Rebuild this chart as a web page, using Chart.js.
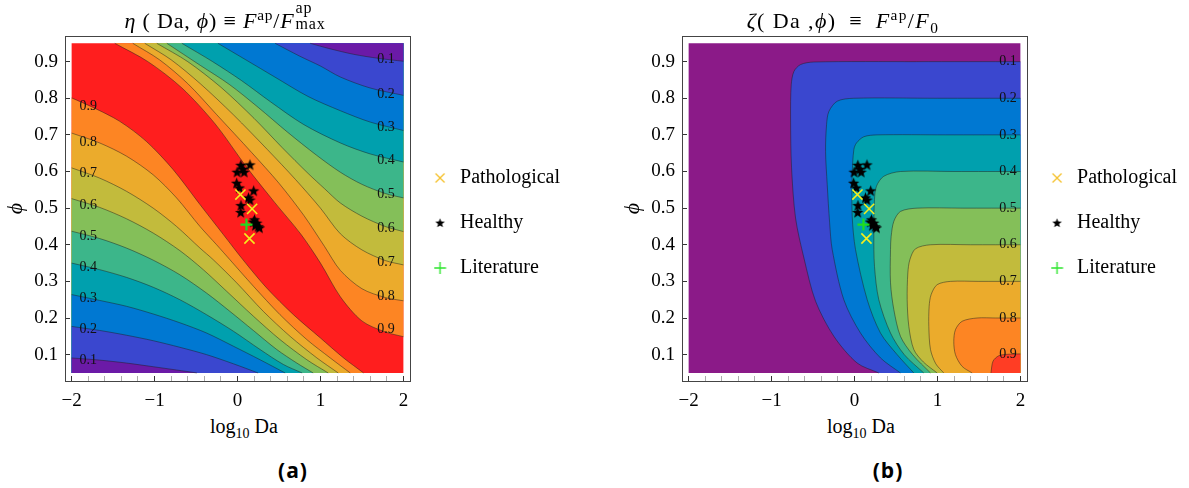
<!DOCTYPE html>
<html>
<head>
<meta charset="utf-8">
<script src="https://cdn.jsdelivr.net/npm/chart.js@4.4.1/dist/chart.umd.min.js"></script>
<style>
  html,body{margin:0;padding:0;background:#fff;}
  body{width:1189px;height:488px;position:relative;overflow:hidden;font-family:'Liberation Serif','Times New Roman',serif;color:#000;}
  .panel{position:absolute;top:0;width:570px;height:412px;}
  #panelA{left:0;}
  #panelB{left:617px;}
  .ttl{position:absolute;top:8px;font-size:22px;line-height:26px;letter-spacing:0.8px;white-space:nowrap;transform:translateX(-50%);z-index:2;}
  .ttlb{letter-spacing:1.4px;}
  .xt{position:absolute;top:413px;font-size:20px;line-height:26px;white-space:nowrap;transform:translateX(-50%);}
  .tag{position:absolute;top:456px;font-family:'Open Sans',sans-serif;font-weight:700;font-size:21px;line-height:28px;letter-spacing:1px;transform:translateX(-50%);}
  sup,sub{font-size:70%;line-height:0;}
  .stk{display:inline-block;position:relative;width:33px;height:0;font-size:16px;}
  .stk .sp{position:absolute;left:1px;top:-28px;line-height:16px;}
  .stk .sb{position:absolute;left:1px;top:-12px;line-height:16px;}
</style>
</head>
<body>
<div id="panelA" class="panel"><canvas id="chartA"></canvas></div>
<div id="panelB" class="panel"><canvas id="chartB"></canvas></div>
<div class="ttl" style="left:226px"><i>η</i> ( Da, <i>ϕ</i>) ≡ <i>F</i><sup>ap</sup>/<i>F</i><span class="stk"><span class="sp">ap</span><span class="sb">max</span></span></div>
<div class="ttl ttlb" style="left:843px"><i>ζ</i>( Da ,<i>ϕ</i>)&thinsp; ≡ &thinsp;<i>F</i><sup>ap</sup>/<i>F</i><sub>0</sub></div>
<div class="xt" style="left:244px">log<sub>10</sub> Da</div>
<div class="xt" style="left:861px">log<sub>10</sub> Da</div>
<div class="tag" style="left:293px">(a)</div>
<div class="tag" style="left:888px">(b)</div>

<script>
// ---------------- axis ticks ----------------
const xTickValues = [-2, -1, 0, 1, 2];
const xTickLabels = ['−2', '−1', '0', '1', '2'];
const yTickValues = [0.1, 0.2, 0.3, 0.4, 0.5, 0.6, 0.7, 0.8, 0.9];
const yTickLabels = ['0.1', '0.2', '0.3', '0.4', '0.5', '0.6', '0.7', '0.8', '0.9'];
const plotXRange = [-2, 2];        // log10 Da range of the contour field
const plotYRange = [0.05, 0.95];   // phi range of the contour field
const contourLevelText = ['0.1', '0.2', '0.3', '0.4', '0.5', '0.6', '0.7', '0.8', '0.9'];

// ---------------- panel (a): eta contours, [log10 Da, phi] ----------------
// contours above the ridge (top edge -> right edge)
const etaUp90 = [[-1.48,0.95],[-1.08,0.90],[-0.67,0.828],[-0.27,0.73],[0.11,0.612],[0.45,0.515],[0.76,0.43],[1.0,0.35],[1.24,0.258],[1.5,0.192],[1.78,0.162],[2,0.149]];
const etaUp80 = [[-1.263,0.95],[-0.94,0.905],[-0.6,0.84],[-0.25,0.755],[0.17,0.652],[0.5,0.568],[0.8,0.48],[1.05,0.395],[1.24,0.33],[1.5,0.28],[1.78,0.256],[2,0.247]];
const etaUp70 = [[-1.118,0.95],[-0.8,0.905],[-0.45,0.84],[-0.05,0.755],[0.36,0.66],[0.7,0.578],[1.0,0.5],[1.24,0.43],[1.5,0.386],[1.78,0.357],[2,0.345]];
const etaUp60 = [[-0.973,0.95],[-0.6,0.9],[-0.2,0.83],[0.2,0.745],[0.54,0.665],[0.85,0.595],[1.05,0.553],[1.24,0.514],[1.5,0.478],[1.78,0.45],[2,0.436]];
const etaUp50 = [[-0.852,0.95],[-0.45,0.89],[-0.1,0.838],[0.25,0.775],[0.6,0.708],[0.95,0.645],[1.24,0.598],[1.5,0.565],[1.78,0.54],[2,0.528]];
const etaUp40 = [[-0.671,0.95],[-0.3,0.9],[0.05,0.848],[0.4,0.79],[0.8,0.728],[1.24,0.678],[1.6,0.648],[2,0.626]];
const etaUp30 = [[-0.236,0.95],[0.1,0.905],[0.45,0.858],[0.85,0.805],[1.24,0.766],[1.6,0.735],[2,0.712]];
const etaUp20 = [[0.453,0.95],[0.75,0.915],[1.0,0.888],[1.24,0.858],[1.6,0.828],[2,0.808]];
const etaUp10 = [[0.876,0.95],[1.1,0.936],[1.4,0.92],[1.7,0.909],[2,0.901]];
// contours below the ridge (left edge -> bottom edge)
const etaLo90 = [[-2,0.801],[-1.742,0.775],[-1.42,0.737],[-1.098,0.682],[-0.775,0.605],[-0.453,0.51],[-0.171,0.428],[0.066,0.359],[0.352,0.282],[0.675,0.209],[0.997,0.146],[1.279,0.091],[1.52,0.05]];
const etaLo80 = [[-2,0.705],[-1.662,0.678],[-1.339,0.642],[-1.017,0.591],[-0.735,0.528],[-0.453,0.45],[-0.252,0.4],[-0.091,0.359],[0.191,0.287],[0.513,0.209],[0.836,0.141],[1.118,0.091],[1.359,0.05]];
const etaLo70 = [[-2,0.61],[-1.662,0.582],[-1.339,0.546],[-1.017,0.5],[-0.735,0.45],[-0.453,0.391],[-0.292,0.359],[-0.01,0.296],[0.312,0.218],[0.634,0.15],[0.957,0.091],[1.214,0.05]];
const etaLo60 = [[-2,0.526],[-1.662,0.502],[-1.339,0.471],[-1.017,0.432],[-0.695,0.384],[-0.413,0.332],[-0.131,0.273],[0.191,0.205],[0.513,0.141],[0.836,0.086],[1.093,0.05]];
const etaLo50 = [[-2,0.437],[-1.662,0.417],[-1.339,0.391],[-1.017,0.358],[-0.695,0.318],[-0.373,0.268],[-0.091,0.218],[0.191,0.166],[0.473,0.114],[0.715,0.077],[0.912,0.05]];
const etaLo40 = [[-2,0.35],[-1.662,0.332],[-1.339,0.311],[-1.017,0.284],[-0.695,0.25],[-0.373,0.209],[-0.05,0.164],[0.272,0.114],[0.554,0.073],[0.779,0.05]];
const etaLo30 = [[-2,0.264],[-1.662,0.248],[-1.339,0.232],[-1.017,0.211],[-0.695,0.187],[-0.373,0.159],[-0.05,0.123],[0.272,0.086],[0.574,0.05]];
const etaLo20 = [[-2,0.177],[-1.662,0.166],[-1.339,0.153],[-1.017,0.138],[-0.695,0.12],[-0.373,0.1],[-0.05,0.075],[0.248,0.05]];
const etaLo10 = [[-2,0.091],[-1.662,0.085],[-1.339,0.077],[-1.017,0.067],[-0.735,0.058],[-0.49,0.05]];
// contour label positions
const etaLabelRightX = 1.79;
const etaLabelRightY = [0.905, 0.812, 0.721, 0.630, 0.537, 0.446, 0.352, 0.259, 0.168];
const etaLabelLeftX = -1.80;
const etaLabelLeftY = [0.084, 0.168, 0.253, 0.339, 0.423, 0.508, 0.596, 0.681, 0.778];

// ---------------- panel (b): zeta contours (right edge -> bottom edge) ----------------
const zetaC10 = [[2,0.9],[0.75,0.9],[-0.49,0.899],[-0.651,0.892],[-0.731,0.873],[-0.763,0.837],[-0.771,0.746],[-0.759,0.61],[-0.711,0.473],[-0.61,0.364],[-0.47,0.246],[-0.249,0.15],[0.032,0.077],[0.293,0.05]];
const zetaC20 = [[2,0.8],[1.0,0.8],[-0.008,0.8],[-0.209,0.792],[-0.309,0.764],[-0.337,0.728],[-0.349,0.655],[-0.329,0.564],[-0.3,0.46],[-0.269,0.387],[-0.129,0.25],[0.072,0.159],[0.313,0.091],[0.554,0.05]];
const zetaC30 = [[2,0.7],[1.1,0.7],[0.273,0.7],[0.113,0.695],[0.024,0.678],[-0.008,0.66],[-0.028,0.591],[-0.028,0.478],[0.012,0.387],[0.153,0.25],[0.313,0.159],[0.514,0.1],[0.715,0.05]];
const zetaC40 = [[2,0.6],[1.2,0.6],[0.554,0.6],[0.353,0.587],[0.265,0.56],[0.241,0.523],[0.233,0.432],[0.241,0.341],[0.293,0.25],[0.434,0.159],[0.6,0.1],[0.835,0.05]];
const zetaC50 = [[2,0.5],[1.3,0.5],[0.755,0.5],[0.554,0.491],[0.474,0.464],[0.442,0.423],[0.434,0.387],[0.434,0.296],[0.474,0.223],[0.554,0.15],[0.7,0.1],[0.916,0.05]];
const zetaC60 = [[2,0.4],[1.4,0.4],[0.916,0.4],[0.735,0.389],[0.667,0.359],[0.643,0.323],[0.635,0.25],[0.655,0.177],[0.715,0.114],[0.83,0.08],[0.996,0.05]];
const zetaC70 = [[2,0.3],[1.5,0.3],[1.157,0.3],[0.996,0.291],[0.924,0.264],[0.9,0.232],[0.896,0.177],[0.916,0.114],[0.98,0.075],[1.076,0.05]];
const zetaC80 = [[2,0.2],[1.7,0.2],[1.478,0.2],[1.297,0.191],[1.217,0.168],[1.197,0.136],[1.217,0.1],[1.297,0.068],[1.418,0.05]];
const zetaC90 = [[2,0.102],[1.85,0.101],[1.74,0.097],[1.67,0.082],[1.645,0.05]];
const zetaLabelX = 1.85;
const zetaLabelY = [0.9, 0.8, 0.7, 0.6, 0.5, 0.4, 0.3, 0.2, 0.102];

// ---------------- measured samples [log10 Da, phi] ----------------
const healthyPts = [[0.04,0.617],[0.15,0.618],[0.065,0.606],[-0.005,0.598],[0.08,0.598],[-0.01,0.568],[0.022,0.555],[0.195,0.547],[0.132,0.528],[0.15,0.522],[0.042,0.507],[0.039,0.488],[0.205,0.468],[0.232,0.459],[0.25,0.449],[0.215,0.452],[0.265,0.446],[0.19,0.462]];
const pathologicalPts = [[0.035,0.537],[0.176,0.498],[0.144,0.417]];
const literaturePts = [[0.108,0.455]];
const legendNames = ['Pathological', 'Healthy', 'Literature'];

// ---------------- styles ----------------
const etaBandColors  = ['#6b1aa7','#3a47cf','#0078d2','#00a0ae','#3cb68a','#84bf59','#c2bb3c','#ebab2c','#fd8523','#ff1e1e'];
const zetaBandColors = ['#8b1a88','#3a47cf','#0078d2','#00a0ae','#3cb68a','#84bf59','#c2bb3c','#ebab2c','#fd8523','#ff3d24'];
const contourLineColor = 'rgba(30,30,30,0.6)';
const frameColor = '#444';
const serif = '"Liberation Serif", "Times New Roman", serif';

Chart.defaults.font.family = serif;

function toXY(arr) { return arr.map(p => ({x: p[0], y: p[1]})); }

function makeMarker(w, h, draw) {
  const c = document.createElement('canvas');
  c.width = w; c.height = h;
  const g = c.getContext('2d');
  draw(g);
  return c;
}
function starPath(g, cx, cy, ro, ri) {
  g.beginPath();
  for (let k = 0; k < 10; k++) {
    const r = k % 2 === 0 ? ro : ri;
    const a = -Math.PI / 2 + k * Math.PI / 5;
    const px = cx + r * Math.cos(a), py = cy + r * Math.sin(a);
    if (k === 0) g.moveTo(px, py); else g.lineTo(px, py);
  }
  g.closePath();
}
const starImg = makeMarker(13, 13, g => { starPath(g, 6.5, 6.8, 6, 2.5); g.fillStyle = '#000'; g.fill(); });
const legStar = makeMarker(18, 14, g => { starPath(g, 6.5, 7.3, 5, 2.1); g.fillStyle = '#000'; g.fill(); });
const legCross = makeMarker(18, 14, g => {
  g.strokeStyle = '#f5bd1f'; g.lineWidth = 1.1; g.beginPath();
  g.moveTo(2, 2.5); g.lineTo(11, 11.5); g.moveTo(11, 2.5); g.lineTo(2, 11.5); g.stroke();
});
const legPlus = makeMarker(18, 14, g => {
  g.strokeStyle = '#2ee52e'; g.lineWidth = 1.4; g.beginPath();
  g.moveTo(0.5, 7); g.lineTo(12.5, 7); g.moveTo(6.5, 1); g.lineTo(6.5, 13); g.stroke();
});

function contourPair(contour, corner, fillColor, order) {
  const last = contour[contour.length - 1];
  const n = contour.length;
  const closed = contour.concat([last, corner]);
  return [
    {type: 'line', data: toXY(closed), showLine: true, fill: 'shape', backgroundColor: fillColor,
     borderColor: 'transparent', borderWidth: 0, pointRadius: 0, pointHoverRadius: 0, tension: 0.3, order: order},
    {type: 'line', data: toXY(closed), showLine: true, fill: false, borderColor: contourLineColor,
     borderWidth: 0.8, pointRadius: 0, pointHoverRadius: 0, tension: 0.3, order: 5,
     segment: {borderColor: c => (c.p1DataIndex >= n ? 'transparent' : undefined)}}
  ];
}
function boxDataset(color) {
  const pts = [[plotXRange[0], plotYRange[0]], [plotXRange[1], plotYRange[0]], [plotXRange[1], plotYRange[1]], [plotXRange[0], plotYRange[1]]];
  return {type: 'line', data: toXY(pts), showLine: true, fill: 'shape', backgroundColor: color,
          borderColor: 'transparent', borderWidth: 0, pointRadius: 0, tension: 0, order: 2000};
}
function scatterDatasets() {
  return [
    {label: 'Pathological', data: toXY(pathologicalPts), pointStyle: 'crossRot', pointRadius: 7.2,
     borderColor: '#f3ee1e', backgroundColor: 'transparent', borderWidth: 1.6, order: 1},
    {label: 'Healthy', data: toXY(healthyPts), pointStyle: starImg, pointRadius: 6, order: 2},
    {label: 'Literature', data: toXY(literaturePts), pointStyle: 'cross', pointRadius: 6,
     borderColor: '#1fdc1f', backgroundColor: 'transparent', borderWidth: 2.2, order: 0}
  ];
}

function labelPlugin(items) {
  return {
    id: 'contourLabels',
    afterDatasetsDraw(chart) {
      const {ctx, scales} = chart;
      ctx.save();
      ctx.font = '14px ' + serif;
      ctx.fillStyle = '#111';
      ctx.textAlign = 'center';
      ctx.textBaseline = 'middle';
      items.forEach(it => ctx.fillText(it.text, scales.x.getPixelForValue(it.x), scales.y.getPixelForValue(it.y)));
      ctx.restore();
    }
  };
}
// let the right-hand legend take its natural width (Chart.js caps side boxes at width/2/n)
const legendWidthPlugin = {
  id: 'legendWidth',
  beforeUpdate(chart) {
    const lg = chart.legend;
    if (lg && !lg.__wide) {
      const fit = lg.fit;
      lg.fit = function () { this.maxWidth = Math.max(this.maxWidth || 0, 240); return fit.call(this); };
      lg.__wide = true;
    }
  }
};

const xAllTicks = [];
for (let i = 0; i <= 20; i++) xAllTicks.push(Math.round((-2 + 0.2 * i) * 10) / 10);
function labelFor(v, vals, labels) {
  const i = vals.findIndex(t => Math.abs(t - v) < 1e-6);
  return i >= 0 ? labels[i] : '';
}
function isMajorX(v) { return xTickValues.some(t => Math.abs(t - v) < 1e-6); }

function chartOptions() {
  return {
    responsive: true, maintainAspectRatio: false, animation: false, events: [],
    layout: {padding: 0},
    scales: {
      x: {type: 'linear', position: 'bottom', min: -2.08, max: 2.08,
          afterBuildTicks: s => { s.ticks = xAllTicks.map(v => ({value: v})); },
          afterFit: s => { s.height = 31; },
          ticks: {autoSkip: false, maxRotation: 0, padding: 14, color: '#000', font: {family: serif, size: 19},
                  callback: v => labelFor(v, xTickValues, xTickLabels)},
          grid: {drawOnChartArea: false, drawTicks: true, tickLength: -5,
                 tickColor: c => (c.tick && !isMajorX(c.tick.value) ? '#888' : '#333'),
                 tickWidth: c => (c.tick && !isMajorX(c.tick.value) ? 0.7 : 1)},
          border: {display: true, color: frameColor, width: 1}},
      y: {type: 'linear', position: 'left', min: 0.028, max: 0.970,
          afterBuildTicks: s => { s.ticks = yTickValues.map(v => ({value: v})); },
          afterFit: s => { s.width = 65; },
          ticks: {autoSkip: false, padding: 12, color: '#000', font: {family: serif, size: 19},
                  callback: v => labelFor(v, yTickValues, yTickLabels)},
          grid: {drawOnChartArea: false, drawTicks: true, tickLength: -5, tickColor: '#333'},
          border: {display: true, color: frameColor, width: 1},
          title: {display: true, text: 'ϕ', color: '#000', font: {family: serif, size: 22, style: 'italic'}, padding: {top: 3, bottom: 0}}},
      x2: {type: 'linear', position: 'top', display: true, ticks: {display: false},
           grid: {drawOnChartArea: false, drawTicks: false}, border: {display: true, color: frameColor, width: 1},
           afterFit: s => { s.height = 36; }},
      y2: {type: 'linear', position: 'right', display: true, ticks: {display: false},
           grid: {drawOnChartArea: false, drawTicks: false}, border: {display: true, color: frameColor, width: 1},
           afterFit: s => { s.width = 0; }}
    },
    plugins: {
      tooltip: {enabled: false},
      legend: {
        position: 'right', align: 'start',
        title: {display: true, text: '', font: {size: 12}, padding: {top: 128.6, bottom: 0}},
        labels: {
          usePointStyle: true, boxWidth: 15, boxHeight: 20, padding: 25, color: '#000',
          font: {family: serif, size: 20},
          generateLabels: () => [
            {text: legendNames[0], pointStyle: legCross, fillStyle: 'transparent', strokeStyle: 'transparent', lineWidth: 0, hidden: false, datasetIndex: 0, fontColor: '#000'},
            {text: legendNames[1], pointStyle: legStar, fillStyle: 'transparent', strokeStyle: 'transparent', lineWidth: 0, hidden: false, datasetIndex: 1, fontColor: '#000'},
            {text: legendNames[2], pointStyle: legPlus, fillStyle: 'transparent', strokeStyle: 'transparent', lineWidth: 0, hidden: false, datasetIndex: 2, fontColor: '#000'}
          ]
        }
      }
    }
  };
}

// ---------- chart (a) ----------
(function () {
  const ds = scatterDatasets();
  ds.push(boxDataset(etaBandColors[9]));
  const ups = [etaUp10, etaUp20, etaUp30, etaUp40, etaUp50, etaUp60, etaUp70, etaUp80, etaUp90];
  const los = [etaLo10, etaLo20, etaLo30, etaLo40, etaLo50, etaLo60, etaLo70, etaLo80, etaLo90];
  for (let i = 0; i < 9; i++) {
    const order = 900 + (i + 1) * 10;
    ds.push(...contourPair(ups[i], [plotXRange[1], plotYRange[1]], etaBandColors[i], order));
    ds.push(...contourPair(los[i], [plotXRange[0], plotYRange[0]], etaBandColors[i], order));
  }
  const labels = [];
  for (let i = 0; i < 9; i++) {
    labels.push({x: etaLabelRightX, y: etaLabelRightY[i], text: contourLevelText[i]});
    labels.push({x: etaLabelLeftX, y: etaLabelLeftY[i], text: contourLevelText[i]});
  }
  new Chart(document.getElementById('chartA'), {type: 'scatter', data: {datasets: ds}, options: chartOptions(), plugins: [legendWidthPlugin, labelPlugin(labels)]});
})();

// ---------- chart (b) ----------
(function () {
  const ds = scatterDatasets();
  ds.push(boxDataset(zetaBandColors[0]));
  const cs = [zetaC10, zetaC20, zetaC30, zetaC40, zetaC50, zetaC60, zetaC70, zetaC80, zetaC90];
  for (let i = 0; i < 9; i++) {
    const order = 1000 - (i + 1) * 10;
    ds.push(...contourPair(cs[i], [plotXRange[1], plotYRange[0]], zetaBandColors[i + 1], order));
  }
  const labels = [];
  for (let i = 0; i < 9; i++) labels.push({x: zetaLabelX, y: zetaLabelY[i], text: contourLevelText[i]});
  new Chart(document.getElementById('chartB'), {type: 'scatter', data: {datasets: ds}, options: chartOptions(), plugins: [legendWidthPlugin, labelPlugin(labels)]});
})();
</script>
</body>
</html>
